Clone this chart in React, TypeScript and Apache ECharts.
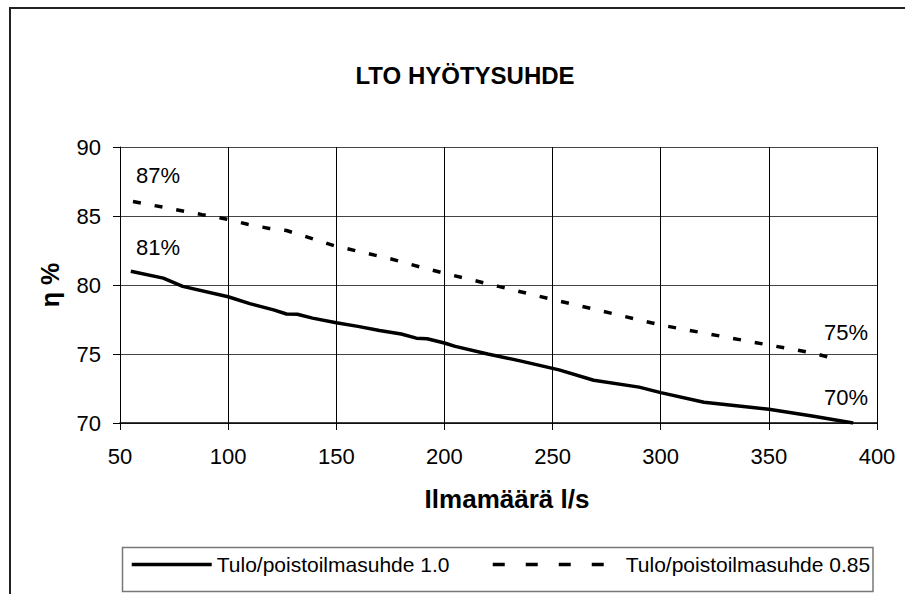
import React, { useEffect, useRef } from "react";
import * as echarts from "echarts";

const titleText = "LTO HYÖTYSUHDE";
const xName = "Ilmamäärä l/s";
const yName = "η %";
const seriesNames = ["Tulo/poistoilmasuhde 1.0", "Tulo/poistoilmasuhde 0.85"];

// Tulo/poistoilmasuhde 1.0
const solidX = [55, 70, 79, 100, 110, 121, 127, 132, 139, 150, 160, 170, 180, 187, 192, 200, 205, 220, 235, 253, 269, 290, 300, 320, 335, 350, 370, 389];
const solidY = [81.0, 80.5, 79.9, 79.15, 78.65, 78.2, 77.9, 77.88, 77.6, 77.27, 77.0, 76.7, 76.45, 76.15, 76.1, 75.8, 75.55, 75.0, 74.5, 73.85, 73.1, 72.6, 72.2, 71.5, 71.25, 71.0, 70.5, 70.0];

// Tulo/poistoilmasuhde 0.85
const dashX = [56, 88, 100, 109, 119, 127, 136, 149, 175, 190, 200, 225, 250, 261, 300, 350, 371, 378, 383];
const dashY = [86.05, 85.1, 84.75, 84.4, 84.1, 83.95, 83.5, 82.85, 81.9, 81.25, 80.85, 79.9, 78.95, 78.55, 77.1, 75.65, 75.05, 74.75, 74.72];

const xTicks = { min: 50, max: 400, interval: 50 };
const yTicks = { min: 70, max: 90, interval: 5 };

const annotations = [
  { text: "87%", x: 158, y: 175 },
  { text: "81%", x: 158, y: 247 },
  { text: "75%", x: 846, y: 332 },
  { text: "70%", x: 846, y: 397 },
];

const FONT = "Liberation Sans, Arial, sans-serif";

export default function App() {
  const ref = useRef<HTMLDivElement>(null);
  useEffect(() => {
    if (!ref.current) return;
    const chart = echarts.init(ref.current, null, { renderer: "svg" });
    const solidData = solidX.map((x, i) => [x, solidY[i]]);
    const dashData = dashX.map((x, i) => [x, dashY[i]]);
    chart.setOption({
      animation: false,
      backgroundColor: "#fff",
      textStyle: { fontFamily: FONT },
      title: {
        text: titleText,
        left: 460,
        top: 58,
        textAlign: "center",
        textStyle: { fontFamily: FONT, fontSize: 24, fontWeight: "bold", color: "#000" },
      },
      grid: { left: 120, right: 28, top: 147, bottom: 171, containLabel: false },
      xAxis: {
        type: "value",
        min: xTicks.min,
        max: xTicks.max,
        interval: xTicks.interval,
        name: xName,
        nameLocation: "middle",
        nameGap: 63,
        nameTextStyle: { fontFamily: FONT, fontSize: 26, fontWeight: "bold", color: "#000", padding: [0, 0, 0, 17] },
        axisLine: { show: true, lineStyle: { color: "#000", width: 1.5 } },
        axisTick: { show: true, inside: false, length: 7, lineStyle: { color: "#000" } },
        axisLabel: { fontFamily: FONT, fontSize: 22, color: "#000", margin: 22 },
        splitLine: { show: true, lineStyle: { color: "#000", width: 1 } },
      },
      yAxis: {
        type: "value",
        min: yTicks.min,
        max: yTicks.max,
        interval: yTicks.interval,
        name: yName,
        nameLocation: "middle",
        nameGap: 58,
        nameRotate: 90,
        nameTextStyle: { fontFamily: FONT, fontSize: 25, fontWeight: "bold", color: "#000" },
        axisLine: { show: true, lineStyle: { color: "#000", width: 1 } },
        axisTick: { show: true, inside: false, length: 7, lineStyle: { color: "#000" } },
        axisLabel: { fontFamily: FONT, fontSize: 22, color: "#000", margin: 19 },
        splitLine: { show: true, lineStyle: { color: "#444", width: 1 } },
      },
      legend: [
        {
          data: [seriesNames[0]],
          left: 130,
          top: 554,
          padding: 0,
          itemWidth: 80,
          itemHeight: 12,
          textStyle: { fontFamily: FONT, fontSize: 21, color: "#000" },
          itemStyle: { opacity: 0 },
          lineStyle: { width: 3.5, color: "#000" },
        },
        {
          data: [seriesNames[1]],
          left: 491,
          top: 554,
          padding: 0,
          itemWidth: 128,
          itemHeight: 12,
          textStyle: { fontFamily: FONT, fontSize: 21, color: "#000" },
          itemStyle: { opacity: 0 },
          lineStyle: { width: 3.5, color: "#000", type: [12, 21] },
        },
      ],
      graphic: [
        {
          type: "rect",
          silent: true,
          shape: { x: 10, y: 8, width: 1200, height: 1200 },
          style: { fill: "none", stroke: "#222", lineWidth: 2 },
        },
        {
          type: "rect",
          silent: true,
          shape: { x: 122.5, y: 547.5, width: 750.5, height: 44 },
          style: { fill: "none", stroke: "#777", lineWidth: 1.5 },
        },
        ...annotations.map((a) => ({
          type: "text",
          silent: true,
          x: a.x,
          y: a.y,
          style: {
            text: a.text,
            fontFamily: FONT,
            fontSize: 22,
            fill: "#000",
            textAlign: "center",
            textVerticalAlign: "middle",
          },
        })),
      ],
      series: [
        {
          name: seriesNames[0],
          type: "line",
          data: solidData,
          showSymbol: false,
          symbol: "none",
          lineStyle: { color: "#000", width: 3.5, type: "solid" },
          itemStyle: { color: "#000" },
        },
        {
          name: seriesNames[1],
          type: "line",
          data: dashData,
          showSymbol: false,
          symbol: "none",
          lineStyle: { color: "#000", width: 3.5, type: [8, 14] },
          itemStyle: { color: "#000" },
        },
      ],
    });
    return () => chart.dispose();
  }, []);
  return <div ref={ref} style={{ width: 905, height: 594, position: "absolute", left: 0, top: 0 }} />;
}
